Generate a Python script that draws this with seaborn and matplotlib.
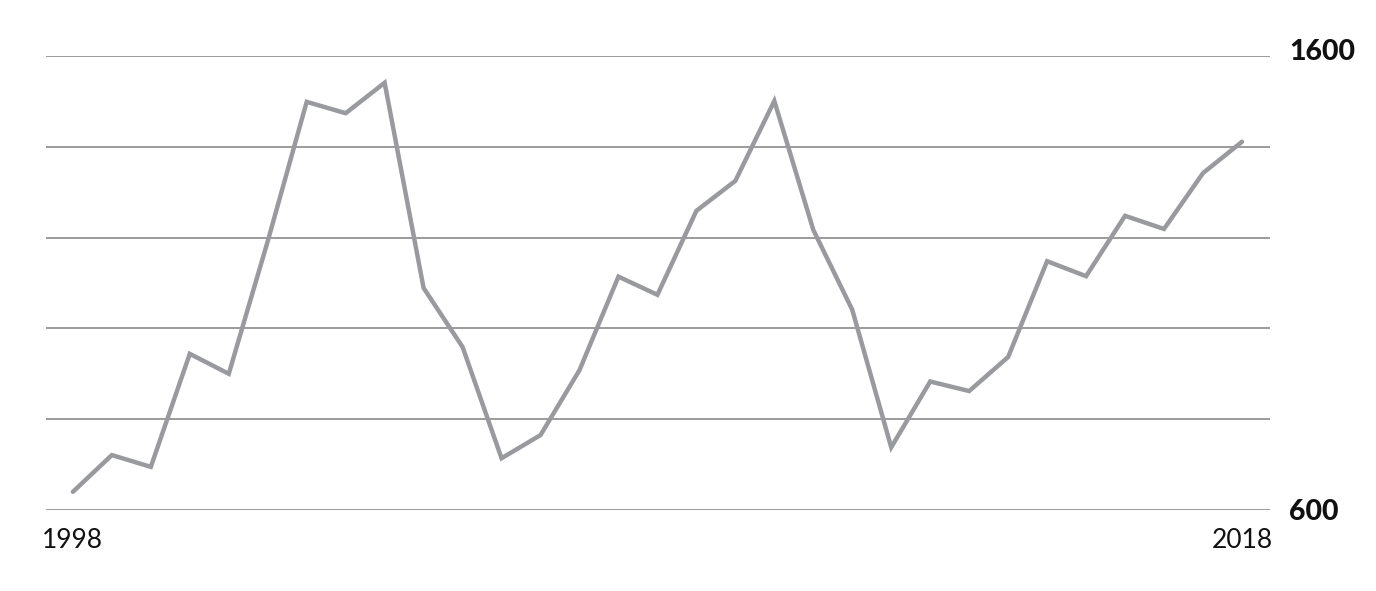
import numpy as np
import matplotlib
matplotlib.use("Agg")
import matplotlib.pyplot as plt
import matplotlib.transforms as mtransforms
import seaborn as sns

# Data
periods = list(range(31))
values = [640, 721, 695, 944, 900, 1192, 1499, 1474, 1541, 1089,
          959, 714, 765, 908, 1114, 1074, 1259, 1325, 1501, 1217,
          1041, 738, 883, 862, 937, 1148, 1115, 1248, 1219, 1342, 1411]
x_ticks = [0, 30]
x_labels = ["1998", "2018"]
y_ticks = [600, 800, 1000, 1200, 1400, 1600]
y_labels = ["600", "", "", "", "", "1600"]

sns.set_style("white")
plt.rcParams["font.family"] = ["Lato", "DejaVu Sans"]

fig = plt.figure(figsize=(13.76, 5.91), dpi=100)
ax = fig.add_axes([46 / 1376, 81 / 591, 1224 / 1376, 454 / 591])

sns.lineplot(x=periods, y=values, ax=ax, color="#999a9d", linewidth=3.2,
             solid_joinstyle="miter", zorder=3)

ax.set_xlim(-0.69, 30.72)
ax.set_ylim(600, 1600)

ax.set_yticks(y_ticks)
ax.set_yticklabels(y_labels, fontsize=20.5, fontweight="black", color="#111111")
ax.yaxis.tick_right()
ax.tick_params(axis="y", length=0, pad=14)
ax.yaxis.grid(True, color="#808080", linewidth=1.1)
# top label sits a bit above its gridline in the original
lab = ax.yaxis.get_majorticklabels()[-1]
lab.set_transform(lab.get_transform() +
                  mtransforms.ScaledTranslation(0, 5 / 72, fig.dpi_scale_trans))

ax.set_xticks(x_ticks)
ax.set_xticklabels(x_labels, fontsize=19, color="#111111")
ax.tick_params(axis="x", length=0, pad=13)

for s in ax.spines.values():
    s.set_visible(False)
ax.set_xlabel("")
ax.set_ylabel("")

fig.savefig("out.png", dpi=100, facecolor="white")
